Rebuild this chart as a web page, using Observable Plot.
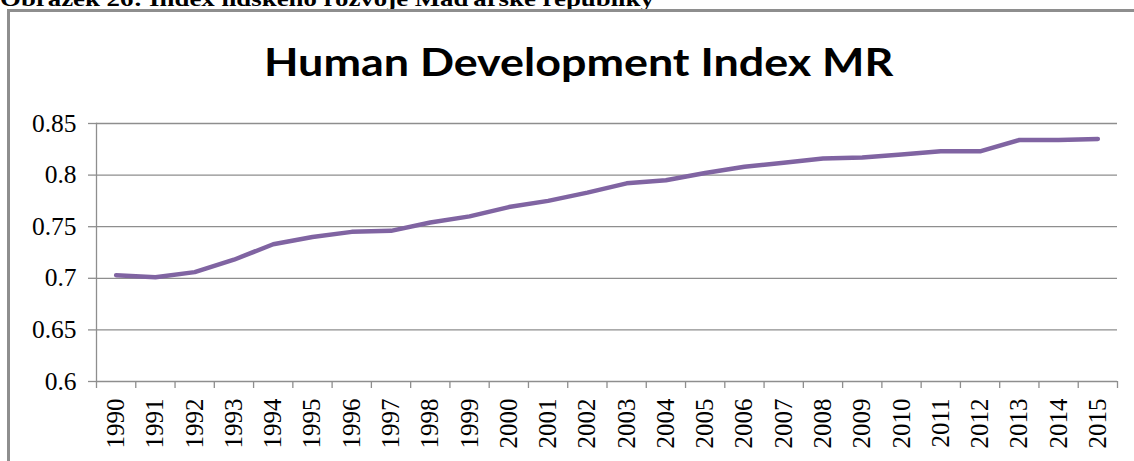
<!DOCTYPE html>
<html>
<head>
<meta charset="utf-8">
<script src="https://cdn.jsdelivr.net/npm/d3@7"></script>
<script src="https://cdn.jsdelivr.net/npm/@observablehq/plot@0.6"></script>
<style>
  html, body { margin: 0; padding: 0; background: #fff; overflow: hidden; }
  #page { position: relative; width: 1134px; height: 461px; overflow: hidden; }
  #caption { position: absolute; left: 0; top: -12px; font-family: "Liberation Serif", serif; font-weight: bold; font-size: 22px; line-height: 22px; white-space: nowrap; transform-origin: 0 0; transform: scaleX(1.22); }
  #frame { position: absolute; left: 7px; top: 9px; width: 1200px; height: 500px; border-top: 3px solid #8e8e8e; border-left: 3px solid #8e8e8e; }
  #title { position: absolute; left: 0; top: 38px; width: 1158px; text-align: center; font-family: Lato, "Open Sans", sans-serif; font-weight: bold; font-size: 39px; line-height: 46px; white-space: nowrap; }
  #title span { display: inline-block; transform: scaleX(1.15); }
  #chart { position: absolute; left: 0; top: 0; }
  #chart svg text { font-family: "Liberation Serif", "Times New Roman", serif; }
</style>
</head>
<body>
<div id="page">
  <div id="caption">Obrázek 26: Index lidského rozvoje Maďarské republiky</div>
  <div id="frame"></div>
  <div id="title"><span>Human Development Index MR</span></div>
  <div id="chart"></div>
</div>
<script>
const years = [1990, 1991, 1992, 1993, 1994, 1995, 1996, 1997, 1998, 1999, 2000, 2001, 2002,
               2003, 2004, 2005, 2006, 2007, 2008, 2009, 2010, 2011, 2012, 2013, 2014, 2015];
const hdi = [0.703, 0.701, 0.706, 0.718, 0.733, 0.740, 0.745, 0.746, 0.754, 0.760, 0.769, 0.775, 0.783,
             0.792, 0.795, 0.802, 0.808, 0.812, 0.816, 0.817, 0.820, 0.823, 0.823, 0.834, 0.834, 0.835];
const yTicks = [0.6, 0.65, 0.7, 0.75, 0.8, 0.85];

const data = years.map((year, i) => ({year, hdi: hdi[i]}));
const boundaries = years.map(y => y - 0.5).concat([years[years.length - 1] + 0.5]);

const chart = Plot.plot({
  width: 1134,
  height: 461,
  marginLeft: 96,
  marginRight: 17,
  marginTop: 123,
  marginBottom: 80,
  style: {background: "transparent", fontFamily: "Liberation Serif, serif", color: "#000", overflow: "visible"},
  x: {type: "linear", domain: [boundaries[0], boundaries[boundaries.length - 1]]},
  y: {domain: [yTicks[0], yTicks[yTicks.length - 1]]},
  marks: [
    Plot.gridY(yTicks, {stroke: "#8e8e8e", strokeOpacity: 1, strokeWidth: 1.3}),
    Plot.frame({anchor: "left", stroke: "#8e8e8e", strokeWidth: 1.3}),
    Plot.axisY(yTicks, {tickSize: 8, tickPadding: 12, stroke: "#8e8e8e", strokeWidth: 1.3, fontSize: 25.5, tickFormat: d => String(d), label: null}),
    Plot.axisX(boundaries, {tickSize: 7, stroke: "#8e8e8e", strokeWidth: 1.3, tickFormat: () => "", label: null}),
    Plot.axisX(years, {tickSize: 0, tickPadding: 17, tickRotate: -90, fontSize: 25, tickFormat: d => String(d), label: null}),
    Plot.line(data, {x: "year", y: "hdi", stroke: "#8064A2", strokeWidth: 4.5})
  ]
});
document.getElementById("chart").appendChild(chart);
</script>
</body>
</html>
